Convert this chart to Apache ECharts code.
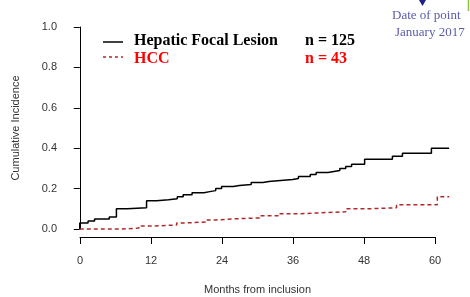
<!DOCTYPE html>
<html>
<head>
<meta charset="utf-8">
<script src="https://cdn.jsdelivr.net/npm/echarts@6/dist/echarts.min.js"></script>
<style>
  html, body { margin: 0; padding: 0; background: #fff; }
  #chart { width: 470px; height: 297px; }
</style>
</head>
<body>
<div id="chart"></div>
<script>
// step points (months, cumulative incidence)
const lesionMonths = [0, 0, 1.4, 2.5, 5, 6.2, 8, 11.3, 13, 15, 16.5, 17.5, 19, 21, 22, 23, 24, 26, 27, 29, 31, 32, 34, 36, 37, 39, 40, 42, 43, 44, 45, 46, 48.2, 52.9, 54.6, 59.5, 62.5]
const lesionValues = [0, 0.03, 0.04, 0.05, 0.06, 0.1, 0.105, 0.14, 0.145, 0.15, 0.16, 0.17, 0.18, 0.185, 0.19, 0.2, 0.21, 0.215, 0.22, 0.23, 0.235, 0.24, 0.245, 0.25, 0.26, 0.27, 0.28, 0.285, 0.29, 0.3, 0.31, 0.32, 0.345, 0.36, 0.375, 0.4, 0.4]
const hccMonths = [0, 7.3, 10, 12.7, 16.4, 18, 21.4, 23, 26, 30.4, 33.8, 37, 40.6, 45, 48.7, 53.6, 60.5, 62.5]
const hccValues = [0, 0.005, 0.015, 0.02, 0.03, 0.035, 0.045, 0.05, 0.055, 0.065, 0.075, 0.08, 0.085, 0.1, 0.105, 0.12, 0.16, 0.16]
const xTicks = [0, 12, 24, 36, 48, 60]
const yTicks = [0, 0.2, 0.4, 0.6, 0.8, 1.0]

const pairs = (xs, ys) => xs.map((x, i) => [x, ys[i]])
const axisFont = { fontFamily: 'Liberation Sans, Arial, sans-serif', fontSize: 11, color: '#333' }
const serifBold = 'bold 16px "Liberation Serif", "Times New Roman", serif'
const serif = '13px "Liberation Serif", "Times New Roman", serif'

let myChart = echarts.init(document.getElementById('chart'))
myChart.setOption({
  animation: false,
  grid: [
    // plot region (R leaves some room around the data)
    { left: 65, top: 27, width: 393, height: 202 },
    // detached x axis, only from 0 to 60
    { left: 80, top: 236, width: 355, height: 1 }
  ],
  xAxis: [
    { gridIndex: 0, type: 'value', min: -2.5, max: 64, show: false },
    {
      gridIndex: 1, type: 'value', min: xTicks[0], max: xTicks[xTicks.length - 1], interval: 12,
      position: 'bottom',
      axisLine: { show: true, lineStyle: { color: '#000', width: 1 } },
      axisTick: { show: true, length: 7, lineStyle: { color: '#000' } },
      axisLabel: Object.assign({ margin: 18 }, axisFont),
      splitLine: { show: false },
      name: 'Months from inclusion', nameLocation: 'middle', nameGap: 47,
      nameTextStyle: axisFont
    }
  ],
  yAxis: [
    {
      gridIndex: 0, type: 'value', min: yTicks[0], max: yTicks[yTicks.length - 1], interval: 0.2,
      axisLine: { show: true, lineStyle: { color: '#000', width: 1 } },
      axisTick: { show: true, length: 6, lineStyle: { color: '#000' } },
      axisLabel: Object.assign({ margin: 8, formatter: v => v.toFixed(1) }, axisFont),
      splitLine: { show: false },
      name: 'Cumulative Incidence', nameLocation: 'middle', nameGap: 44,
      nameTextStyle: axisFont
    },
    { gridIndex: 1, type: 'value', show: false }
  ],
  series: [
    {
      name: 'Hepatic Focal Lesion', type: 'line', step: 'end', xAxisIndex: 0, yAxisIndex: 0,
      data: pairs(lesionMonths, lesionValues), symbol: 'none', clip: false,
      lineStyle: { color: '#000', width: 1.5 }
    },
    {
      name: 'HCC', type: 'line', step: 'end', xAxisIndex: 0, yAxisIndex: 0,
      data: pairs(hccMonths, hccValues), symbol: 'none', clip: false,
      lineStyle: { color: '#b02a2a', width: 1.5, type: [4, 3] }
    }
  ],
  graphic: [
    // legend
    { type: 'line', shape: { x1: 103, y1: 42, x2: 123, y2: 42 }, style: { stroke: '#000', lineWidth: 1.5 } },
    { type: 'line', shape: { x1: 103, y1: 57, x2: 123, y2: 57 }, style: { stroke: '#b02a2a', lineWidth: 1.5, lineDash: [3, 3] } },
    { type: 'text', left: 134, top: 33, style: { text: 'Hepatic Focal Lesion', font: serifBold, fill: '#000' } },
    { type: 'text', left: 305, top: 33, style: { text: 'n = 125', font: serifBold, fill: '#000' } },
    { type: 'text', left: 134, top: 51, style: { text: 'HCC', font: serifBold, fill: '#ff0000' } },
    { type: 'text', left: 305, top: 51, style: { text: 'n = 43', font: serifBold, fill: '#ff0000' } },
    // note top right
    { type: 'polygon', shape: { points: [[419, 0], [426, 0], [422.5, 6]] }, style: { fill: '#1a237e' } },
    { type: 'line', shape: { x1: 468.5, y1: 0, x2: 468.5, y2: 11 }, style: { stroke: '#8bc34a', lineWidth: 1.5 } },
    { type: 'text', left: 392, top: 9, style: { text: 'Date of point', font: serif, fill: '#5b5ba8' } },
    { type: 'text', left: 395, top: 26, style: { text: 'January 2017', font: serif, fill: '#5b5ba8' } }
  ]
})
</script>
</body>
</html>
